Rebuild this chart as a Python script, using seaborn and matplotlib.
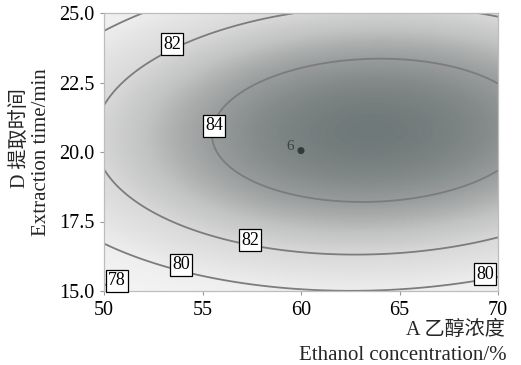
import matplotlib
matplotlib.use("Agg")
import matplotlib.pyplot as plt
import seaborn as sns
import numpy as np
import pandas as pd
from matplotlib.colors import LinearSegmentedColormap

# quadratic response-surface model (centre A=60, D=20)
center_a, center_d = 60.0, 20.0
b0, b_a, b_d = 84.724, 0.1045, 0.2148
b_aa, b_dd, b_ad = -0.01523, -0.15034, 0.00552

levels = [78, 80, 82, 84]
label_text = ["82", "84", "82", "80", "78", "80"]
label_x = [53.45, 55.58, 57.41, 53.91, 50.66, 69.34]
label_y = [23.88, 20.94, 16.83, 15.94, 15.36, 15.61]

design_a = [60.0]
design_d = [20.05]
design_label = ["6"]

sns.set_theme(style="white")
serif = ["Liberation Serif", "Noto Sans CJK SC"]
plt.rcParams["font.family"] = serif

fig = plt.figure(figsize=(5.21, 3.65), dpi=100)
ax = fig.add_axes([104 / 521, 74 / 365, 394 / 521, 278 / 365])

gx = np.linspace(50, 70, 300)
gy = np.linspace(15, 25, 300)
GX, GY = np.meshgrid(gx, gy)
U, V = GX - center_a, GY - center_d
GZ = b0 + b_a * U + b_d * V + b_aa * U ** 2 + b_dd * V ** 2 + b_ad * U * V

cmap = LinearSegmentedColormap.from_list("g", [
    (0.0, "#f7f7f7"), (3 / 8.2, "#eeeeee"), (5 / 8.2, "#d9d9d9"),
    (6 / 8.2, "#c2c3c3"), (7 / 8.2, "#9a9d9d"), (1.0, "#687272")])
ax.pcolormesh(GX, GY, GZ, cmap=cmap, vmin=77, vmax=85.2, shading="gouraud",
              rasterized=True)
ax.contour(GX, GY, GZ, levels=levels, colors="#7c7c7c", linewidths=1.3)

for t, x, y in zip(label_text, label_x, label_y):
    ax.text(x, y, t, fontsize=13, ha="center", va="center", color="black",
            bbox=dict(boxstyle="square,pad=0.12", fc="white", ec="black", lw=0.9),
            zorder=5)

pts = pd.DataFrame({"A": design_a, "D": design_d})
sns.scatterplot(data=pts, x="A", y="D", ax=ax, s=26, color="#333a3a",
                edgecolor="none", zorder=6, legend=False)
for x, y, t in zip(design_a, design_d, design_label):
    ax.annotate(t, (x, y), xytext=(-8, 3), textcoords="offset points",
                ha="center", va="center", fontsize=11, color="#3a4242")

ax.set_xlim(50, 70)
ax.set_ylim(15, 25)
ax.set_xticks([50, 55, 60, 65, 70])
ax.set_yticks([15, 17.5, 20, 22.5, 25])
ax.set_yticklabels(["15.0", "17.5", "20.0", "22.5", "25.0"])
ax.set_xlabel("")
ax.set_ylabel("")
ax.tick_params(axis="both", labelsize=14.5, length=3, width=0.8,
               direction="out", pad=4, left=True, bottom=True,
               color="#999999", labelcolor="black")
for s in ax.spines.values():
    s.set_color("#bdbdbd")
    s.set_linewidth(0.9)

fig.text(505 / 521, 1 - 330 / 365, "A 乙醇浓度", ha="right", va="center",
         fontsize=14.5, family=serif)
fig.text(507 / 521, 1 - 356 / 365, "Ethanol concentration/%", ha="right",
         va="center", fontsize=15, family=serif)
fig.text(20 / 521, 1 - 138 / 365, "D 提取时间", ha="center", va="center",
         rotation=90, fontsize=14.5, family=serif)
fig.text(42 / 521, 1 - 152 / 365, "Extraction time/min", ha="center",
         va="center", rotation=90, fontsize=15, family=serif)

fig.savefig("out.png", dpi=100)
